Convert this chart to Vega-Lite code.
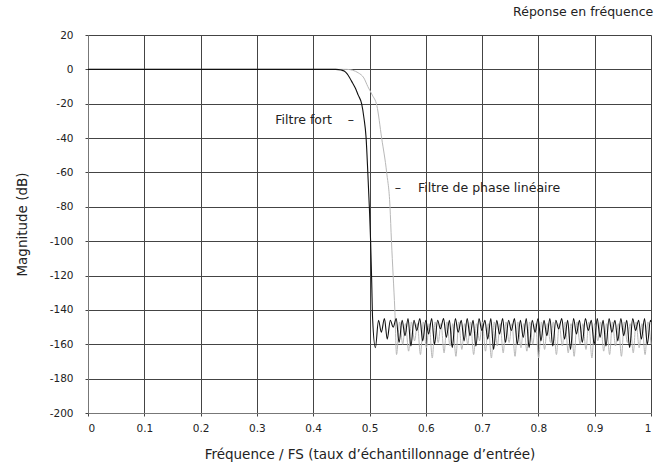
{
  "$schema": "https://vega.github.io/schema/vega-lite/v6.json",
  "autosize": "none",
  "width": 563,
  "height": 378,
  "padding": {"left": 88, "top": 35, "right": 17, "bottom": 54},
  "background": "white",
  "title": {"text": "Réponse en fréquence", "anchor": "end", "fontSize": 12.5, "fontWeight": "normal", "font": "DejaVu Sans", "color": "#222", "offset": 12},
  "config": {
    "view": {"stroke": null},
    "axis": {
      "gridColor": "#444", "gridWidth": 1, "gridOpacity": 1,
      "domainColor": "#777", "tickColor": "#444", "tickSize": 3,
      "labelFont": "DejaVu Sans", "labelFontSize": 10.5, "labelColor": "#222",
      "titleFont": "DejaVu Sans", "titleFontSize": 13.5, "titleFontWeight": "normal", "titleColor": "#222"
    }
  },
  "datasets": {
    "fort": [
      {"f": 0, "m": 0}, {"f": 0.44, "m": 0}, {"f": 0.45, "m": -0.4}, {"f": 0.455, "m": -1}, {"f": 0.46, "m": -2.5},
      {"f": 0.465, "m": -5}, {"f": 0.47, "m": -8}, {"f": 0.475, "m": -11}, {"f": 0.48, "m": -15}, {"f": 0.486, "m": -20},
      {"f": 0.49, "m": -28}, {"f": 0.494, "m": -40}, {"f": 0.497, "m": -60}, {"f": 0.4997, "m": -80}, {"f": 0.502, "m": -100},
      {"f": 0.504, "m": -125}, {"f": 0.5055, "m": -145},
      {"f": 0.5105, "m": -162}, {"f": 0.516, "m": -146},
      {"f": 0.521, "m": -153}, {"f": 0.5265, "m": -145},
      {"f": 0.5315, "m": -157}, {"f": 0.537, "m": -146},
      {"f": 0.542, "m": -150}, {"f": 0.5475, "m": -145},
      {"f": 0.5525, "m": -159}, {"f": 0.558, "m": -146},
      {"f": 0.563, "m": -155}, {"f": 0.5685, "m": -145},
      {"f": 0.5735, "m": -161}, {"f": 0.579, "m": -146},
      {"f": 0.584, "m": -152}, {"f": 0.5895, "m": -145},
      {"f": 0.5945, "m": -158}, {"f": 0.6, "m": -146},
      {"f": 0.605, "m": -154}, {"f": 0.6105, "m": -145},
      {"f": 0.6155, "m": -160}, {"f": 0.621, "m": -146},
      {"f": 0.626, "m": -151}, {"f": 0.6315, "m": -145},
      {"f": 0.6365, "m": -156}, {"f": 0.642, "m": -146},
      {"f": 0.647, "m": -162}, {"f": 0.6525, "m": -145},
      {"f": 0.6575, "m": -153}, {"f": 0.663, "m": -146},
      {"f": 0.668, "m": -158}, {"f": 0.6735, "m": -145},
      {"f": 0.6785, "m": -155}, {"f": 0.684, "m": -146},
      {"f": 0.689, "m": -161}, {"f": 0.6945, "m": -145},
      {"f": 0.6995, "m": -152}, {"f": 0.705, "m": -146},
      {"f": 0.71, "m": -157}, {"f": 0.7155, "m": -145},
      {"f": 0.7205, "m": -163}, {"f": 0.726, "m": -146},
      {"f": 0.731, "m": -154}, {"f": 0.7365, "m": -145},
      {"f": 0.7415, "m": -159}, {"f": 0.747, "m": -146},
      {"f": 0.752, "m": -152}, {"f": 0.7575, "m": -145},
      {"f": 0.7625, "m": -160}, {"f": 0.768, "m": -146},
      {"f": 0.773, "m": -156}, {"f": 0.7785, "m": -145},
      {"f": 0.7835, "m": -162}, {"f": 0.789, "m": -146},
      {"f": 0.794, "m": -153}, {"f": 0.7995, "m": -145},
      {"f": 0.8045, "m": -158}, {"f": 0.81, "m": -146},
      {"f": 0.815, "m": -155}, {"f": 0.8205, "m": -145},
      {"f": 0.8255, "m": -161}, {"f": 0.831, "m": -146},
      {"f": 0.836, "m": -151}, {"f": 0.8415, "m": -145},
      {"f": 0.8465, "m": -157}, {"f": 0.852, "m": -146},
      {"f": 0.857, "m": -163}, {"f": 0.8625, "m": -145},
      {"f": 0.8675, "m": -154}, {"f": 0.873, "m": -146},
      {"f": 0.878, "m": -159}, {"f": 0.8835, "m": -145},
      {"f": 0.8885, "m": -152}, {"f": 0.894, "m": -146},
      {"f": 0.899, "m": -160}, {"f": 0.9045, "m": -145},
      {"f": 0.9095, "m": -156}, {"f": 0.915, "m": -146},
      {"f": 0.92, "m": -161}, {"f": 0.9255, "m": -145},
      {"f": 0.9305, "m": -153}, {"f": 0.936, "m": -146},
      {"f": 0.941, "m": -158}, {"f": 0.9465, "m": -145},
      {"f": 0.9515, "m": -155}, {"f": 0.957, "m": -146},
      {"f": 0.962, "m": -162}, {"f": 0.9675, "m": -145},
      {"f": 0.9725, "m": -152}, {"f": 0.978, "m": -146},
      {"f": 0.983, "m": -157}, {"f": 0.9885, "m": -145},
      {"f": 0.9935, "m": -160}, {"f": 0.999, "m": -146},
      {"f": 1.0, "m": -147}
    ],
    "lin": [
      {"f": 0, "m": 0}, {"f": 0.46, "m": 0}, {"f": 0.47, "m": -0.5}, {"f": 0.48, "m": -2}, {"f": 0.49, "m": -5},
      {"f": 0.497, "m": -10}, {"f": 0.505, "m": -15}, {"f": 0.513, "m": -21}, {"f": 0.5216, "m": -40},
      {"f": 0.5305, "m": -60}, {"f": 0.5364, "m": -80}, {"f": 0.539, "m": -100}, {"f": 0.542, "m": -120},
      {"f": 0.545, "m": -140}, {"f": 0.548, "m": -166},
      {"f": 0.5535, "m": -147}, {"f": 0.559, "m": -160},
      {"f": 0.564, "m": -148}, {"f": 0.5695, "m": -164},
      {"f": 0.5745, "m": -147}, {"f": 0.58, "m": -158},
      {"f": 0.585, "m": -148}, {"f": 0.5905, "m": -166},
      {"f": 0.5955, "m": -147}, {"f": 0.601, "m": -162},
      {"f": 0.606, "m": -148}, {"f": 0.6115, "m": -168},
      {"f": 0.6165, "m": -147}, {"f": 0.622, "m": -159},
      {"f": 0.627, "m": -148}, {"f": 0.6325, "m": -165},
      {"f": 0.6375, "m": -147}, {"f": 0.643, "m": -161},
      {"f": 0.648, "m": -148}, {"f": 0.6535, "m": -167},
      {"f": 0.6585, "m": -147}, {"f": 0.664, "m": -163},
      {"f": 0.669, "m": -148}, {"f": 0.6745, "m": -160},
      {"f": 0.6795, "m": -147}, {"f": 0.685, "m": -166},
      {"f": 0.69, "m": -148}, {"f": 0.6955, "m": -158},
      {"f": 0.7005, "m": -147}, {"f": 0.706, "m": -164},
      {"f": 0.711, "m": -148}, {"f": 0.7165, "m": -168},
      {"f": 0.7215, "m": -147}, {"f": 0.727, "m": -161},
      {"f": 0.732, "m": -148}, {"f": 0.7375, "m": -165},
      {"f": 0.7425, "m": -147}, {"f": 0.748, "m": -159},
      {"f": 0.753, "m": -148}, {"f": 0.7585, "m": -167},
      {"f": 0.7635, "m": -147}, {"f": 0.769, "m": -162},
      {"f": 0.774, "m": -148}, {"f": 0.7795, "m": -164},
      {"f": 0.7845, "m": -147}, {"f": 0.79, "m": -160},
      {"f": 0.795, "m": -148}, {"f": 0.8005, "m": -168},
      {"f": 0.8055, "m": -147}, {"f": 0.811, "m": -163},
      {"f": 0.816, "m": -148}, {"f": 0.8215, "m": -159},
      {"f": 0.8265, "m": -147}, {"f": 0.832, "m": -166},
      {"f": 0.837, "m": -148}, {"f": 0.8425, "m": -161},
      {"f": 0.8475, "m": -147}, {"f": 0.853, "m": -165},
      {"f": 0.858, "m": -148}, {"f": 0.8635, "m": -167},
      {"f": 0.8685, "m": -147}, {"f": 0.874, "m": -160},
      {"f": 0.879, "m": -148}, {"f": 0.8845, "m": -163},
      {"f": 0.8895, "m": -147}, {"f": 0.895, "m": -168},
      {"f": 0.9, "m": -148}, {"f": 0.9055, "m": -158},
      {"f": 0.9105, "m": -147}, {"f": 0.916, "m": -164},
      {"f": 0.921, "m": -148}, {"f": 0.9265, "m": -166},
      {"f": 0.9315, "m": -147}, {"f": 0.937, "m": -161},
      {"f": 0.942, "m": -148}, {"f": 0.9475, "m": -167},
      {"f": 0.9525, "m": -147}, {"f": 0.958, "m": -159},
      {"f": 0.963, "m": -148}, {"f": 0.9685, "m": -165},
      {"f": 0.9735, "m": -147}, {"f": 0.979, "m": -162},
      {"f": 0.984, "m": -148}, {"f": 0.9895, "m": -166},
      {"f": 0.9945, "m": -147}, {"f": 1.0, "m": -160}
    ],
    "labR": [{"f": 0.4334, "m": -29.5, "t": "Filtre fort"}],
    "labC": [{"f": 0.467, "m": -29.5, "t": "–"}, {"f": 0.5506, "m": -69.1, "t": "–"}],
    "labL": [{"f": 0.586, "m": -69.1, "t": "Filtre de phase linéaire"}]
  },
  "encoding": {
    "x": {"field": "f", "type": "quantitative",
      "scale": {"domain": [0, 1], "nice": false},
      "axis": {"values": [0, 0.1, 0.2, 0.3, 0.4, 0.5, 0.6, 0.7, 0.8, 0.9, 1], "labelExpr": "toString(datum.value)", "labelPadding": 7,
        "title": "Fréquence / FS (taux d’échantillonnage d’entrée)", "titlePadding": 14}},
    "y": {"field": "m", "type": "quantitative",
      "scale": {"domain": [-200, 20], "nice": false},
      "axis": {"values": [-200, -180, -160, -140, -120, -100, -80, -60, -40, -20, 0, 20], "labelExpr": "toString(datum.value)", "labelPadding": 12,
        "title": "Magnitude (dB)", "titlePadding": 20}}
  },
  "layer": [
    {"data": {"name": "lin"}, "mark": {"type": "line", "color": "#b8b8b8", "strokeWidth": 1, "interpolate": "monotone"}},
    {"data": {"name": "fort"}, "mark": {"type": "line", "color": "#111111", "strokeWidth": 1.1, "interpolate": "monotone"}},
    {"data": {"name": "labR"}, "mark": {"type": "text", "align": "right", "baseline": "middle", "font": "DejaVu Sans", "fontSize": 12.5, "color": "#222"}, "encoding": {"text": {"field": "t"}}},
    {"data": {"name": "labC"}, "mark": {"type": "text", "align": "center", "baseline": "middle", "font": "DejaVu Sans", "fontSize": 12.5, "color": "#222"}, "encoding": {"text": {"field": "t"}}},
    {"data": {"name": "labL"}, "mark": {"type": "text", "align": "left", "baseline": "middle", "font": "DejaVu Sans", "fontSize": 12.5, "color": "#222"}, "encoding": {"text": {"field": "t"}}}
  ]
}
